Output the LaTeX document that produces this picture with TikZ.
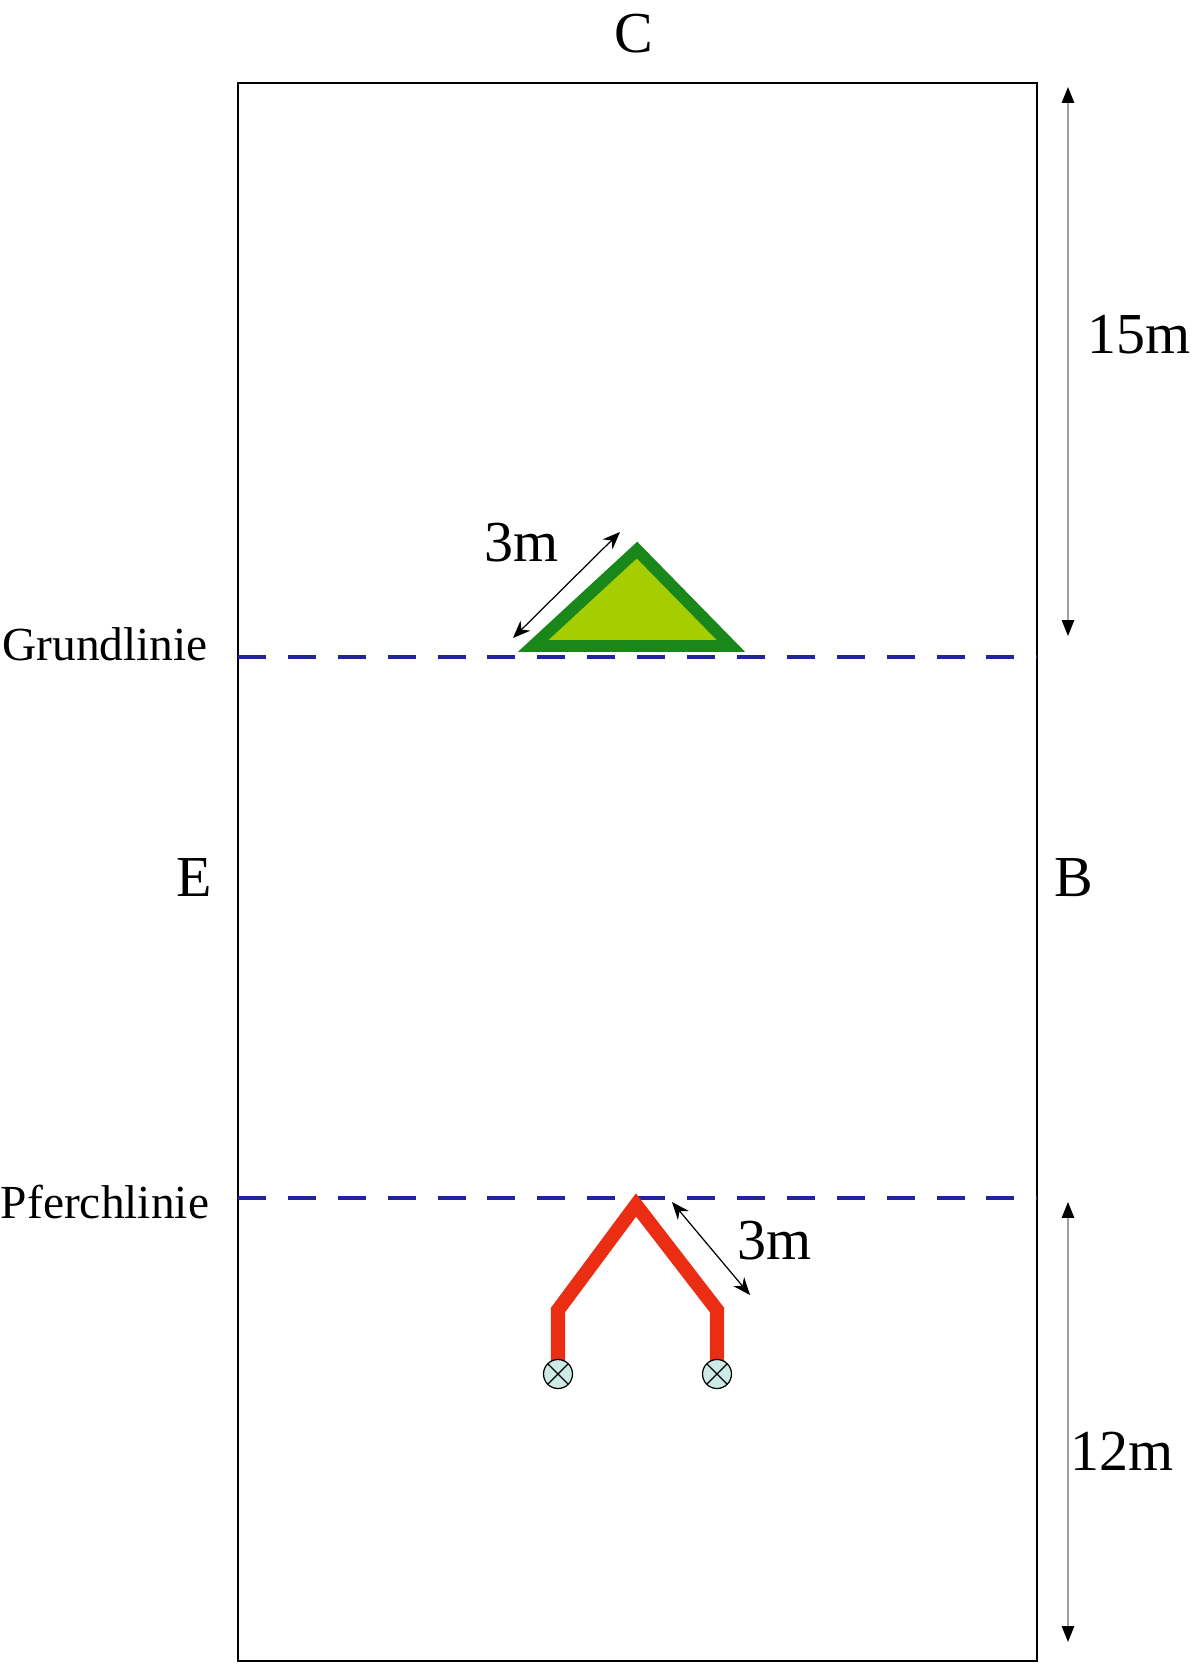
\documentclass[tikz,border=0pt]{standalone}
\usepackage{fontspec}
\setmainfont{Liberation Serif}
\usetikzlibrary{arrows.meta,positioning,calc}
\definecolor{lineblue}{RGB}{35,35,160}
\definecolor{tridark}{RGB}{25,135,25}
\definecolor{trifill}{RGB}{165,205,0}
\definecolor{penred}{RGB}{235,45,20}
\definecolor{valvefill}{RGB}{205,235,230}

\begin{document}
\begin{tikzpicture}[
  x=0.02cm, y=-0.02cm,
  lbl/.style={font=\fontsize{33}{36}\selectfont, inner sep=0pt},
  side/.style={font=\fontsize{27}{30}\selectfont, inner sep=0pt},
  arena/.style={draw, line width=1.2pt},
  baseline/.style={draw=lineblue, line width=2.4pt, dash pattern=on 15.9pt off 12.5pt},
  dimline/.style={{Triangle[length=9pt,width=7pt,color=black]}-{Triangle[length=9pt,width=7pt,color=black]}, draw=gray!75, line width=0.9pt},
  meas/.style={{Stealth[length=10pt,width=8pt]}-{Stealth[length=10pt,width=8pt]}, draw=black, line width=0.7pt},
  valve/.style={circle, draw, line width=0.7pt, fill=valvefill, minimum size=0.58cm, inner sep=0pt,
    path picture={\draw[line width=0.7pt] (path picture bounding box.north west) -- (path picture bounding box.south east)
      (path picture bounding box.north east) -- (path picture bounding box.south west);}}
]
  \useasboundingbox (0,0) rectangle (1203,1664);

  % Arena
  \coordinate (nw) at (238,83);
  \coordinate (se) at (1037,1661);
  \draw[arena] (nw) rectangle (se);

  % Letters
  \node[lbl] (C) at (634,34) {C};
  \node[lbl] (E) at (194,878) {E};
  \node[lbl] (B) at (1074,878) {B};

  % Lines
  \coordinate (gl) at (238,657);
  \coordinate (gr) at (1037,657);
  \coordinate (pl) at (238,1198);
  \coordinate (pr) at (1037,1198);
  \draw[baseline] (gl) -- (gr);
  \draw[baseline] (pl) -- (pr);
  \node[side] (grund) at (105,644) {Grundlinie};
  \node[side] (pferch) at (105,1202) {Pferchlinie};

  % Triangle
  \draw[draw=tridark, fill=trifill, line width=6.8pt] (533,646) coordinate (tl) -- (637,550) coordinate (tt) -- (731,646) coordinate (tr) -- cycle;
  \coordinate (ta) at (620,532);
  \coordinate (tb) at (513,638);
  \draw[meas] (ta) -- (tb);
  \node[lbl] (tri3m) at (522,543) {3m};

  % Pen
  \coordinate (p1) at (558,1362);
  \coordinate (p2) at (558,1310);
  \coordinate (p3) at (636,1205);
  \coordinate (p4) at (717,1310);
  \coordinate (p5) at (717,1362);
  \draw[penred, line width=8pt] (p1) -- (p2) -- (p3) -- (p4) -- (p5);
  \node[valve] (v1) at (558,1374) {};
  \node[valve] (v2) at (717,1374) {};
  \coordinate (pa) at (672,1202);
  \coordinate (pb) at (750,1295);
  \draw[meas] (pa) -- (pb);
  \node[lbl] (pen3m) at (775,1241) {3m};

  % Distances
  \coordinate (d1) at (1068,87);
  \coordinate (d2) at (1068,636);
  \coordinate (d3) at (1068,1202);
  \coordinate (d4) at (1068,1642);
  \draw[dimline] (d1) -- (d2);
  \draw[dimline] (d3) -- (d4);
  \node[lbl] (top15) at (1139,335) {15m};
  \node[lbl] (bot12) at (1122,1451) {12m};
\end{tikzpicture}
\end{document}
